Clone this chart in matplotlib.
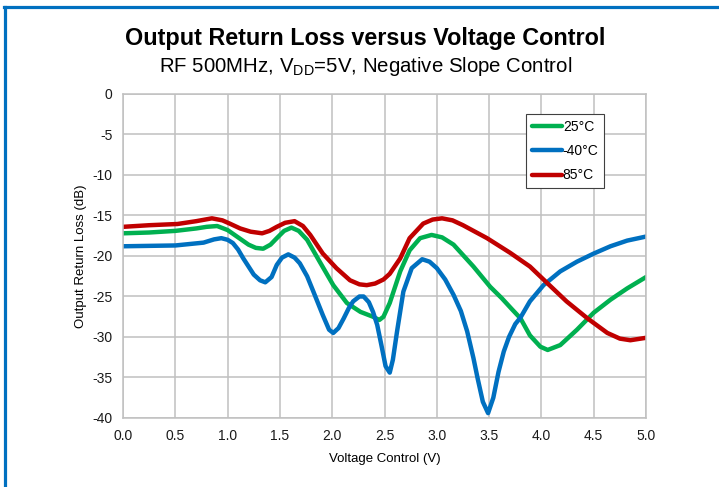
import matplotlib
matplotlib.use('Agg')
import matplotlib.pyplot as plt
from matplotlib.lines import Line2D

plt.rcParams['font.family'] = ['Liberation Sans', 'DejaVu Sans']
plt.rcParams['axes.unicode_minus'] = False

# 25°C
x_25 = [0.0, 0.25, 0.5, 0.7, 0.8, 0.9, 1.0, 1.1, 1.2, 1.27, 1.34, 1.41, 1.47, 1.54,
        1.61, 1.68, 1.76, 1.88, 2.01, 2.14, 2.27, 2.39, 2.45, 2.49, 2.55, 2.65,
        2.74, 2.84, 2.95, 3.05, 3.16, 3.35, 3.51, 3.62, 3.72, 3.80, 3.89, 3.99,
        4.06, 4.18, 4.34, 4.50, 4.66, 4.82, 5.0]
y_25 = [-17.2, -17.1, -16.9, -16.6, -16.4, -16.3, -16.8, -17.7, -18.6, -19.0, -19.1,
        -18.6, -17.8, -16.9, -16.5, -16.9, -18.0, -20.7, -23.6, -25.8, -26.9, -27.5,
        -27.9, -27.5, -25.8, -21.9, -19.3, -17.8, -17.4, -17.7, -18.6, -21.3, -23.8,
        -25.2, -26.6, -27.7, -29.8, -31.2, -31.6, -31.0, -29.1, -27.0, -25.4, -24.0,
        -22.6]

# -40°C
x_m40 = [0.0, 0.5, 0.77, 0.87, 0.94, 1.0, 1.05, 1.10, 1.15, 1.25, 1.31, 1.36, 1.42,
         1.47, 1.52, 1.58, 1.64, 1.69, 1.76, 1.82, 1.91, 1.97, 2.01, 2.06, 2.11,
         2.16, 2.20, 2.26, 2.30, 2.35, 2.39, 2.43, 2.47, 2.51, 2.55, 2.58, 2.62,
         2.68, 2.76, 2.86, 2.93, 3.0, 3.08, 3.16, 3.23, 3.29, 3.35, 3.39, 3.44,
         3.49, 3.54, 3.59, 3.64, 3.69, 3.75, 3.80, 3.89, 4.02, 4.18, 4.34, 4.50,
         4.66, 4.82, 5.0]
y_m40 = [-18.8, -18.7, -18.35, -17.95, -17.8, -18.0, -18.4, -19.2, -20.3, -22.3, -23.0,
         -23.25, -22.6, -21.1, -20.2, -19.8, -20.2, -20.9, -22.5, -24.4, -27.3, -29.1,
         -29.5, -28.9, -27.7, -26.4, -25.6, -25.0, -25.0, -25.7, -26.9, -28.5, -31.0,
         -33.6, -34.4, -32.8, -29.3, -24.4, -21.5, -20.4, -20.7, -21.5, -22.9, -24.8,
         -26.8, -29.3, -32.6, -35.1, -38.0, -39.4, -37.5, -34.3, -31.8, -30.0, -28.4,
         -27.6, -25.6, -23.6, -21.9, -20.7, -19.7, -18.8, -18.1, -17.6]

# 85°C
x_85 = [0.0, 0.25, 0.52, 0.7, 0.85, 0.95, 1.02, 1.12, 1.22, 1.33, 1.40, 1.47, 1.55,
        1.64, 1.72, 1.79, 1.91, 2.04, 2.17, 2.26, 2.33, 2.41, 2.49, 2.55, 2.65,
        2.74, 2.87, 2.96, 3.05, 3.15, 3.25, 3.48, 3.70, 3.89, 4.06, 4.24, 4.44,
        4.63, 4.75, 4.85, 5.0]
y_85 = [-16.4, -16.2, -16.05, -15.7, -15.35, -15.6, -16.0, -16.6, -17.0, -17.2, -16.9,
        -16.4, -15.9, -15.7, -16.3, -17.4, -19.7, -21.5, -23.0, -23.5, -23.6, -23.4,
        -22.9, -22.2, -20.3, -17.8, -16.0, -15.5, -15.35, -15.6, -16.2, -17.8, -19.6,
        -21.3, -23.4, -25.6, -27.7, -29.5, -30.2, -30.4, -30.1]

series = [('25°C', x_25, y_25, '#00B050'),
          ('-40°C', x_m40, y_m40, '#0070C0'),
          ('85°C', x_85, y_85, '#C00000')]

x_ticks = [0.0, 0.5, 1.0, 1.5, 2.0, 2.5, 3.0, 3.5, 4.0, 4.5, 5.0]
y_ticks = [0, -5, -10, -15, -20, -25, -30, -35, -40]

fig = plt.figure(figsize=(7.19, 4.87), dpi=100)
ax = fig.add_axes([0.1711, 0.1417, 0.7274, 0.6653])

for label, xs, ys, color in series:
    ax.plot(xs, ys, color=color, lw=3.2, label=label, solid_capstyle='round',
            solid_joinstyle='round')

ax.set_xlim(0, 5)
ax.set_ylim(-40, 0)
ax.set_xticks(x_ticks)
ax.set_xticklabels(['%.1f' % v for v in x_ticks])
ax.set_yticks(y_ticks)
ax.grid(True, color='#C0C0C0', lw=1.1)
ax.set_axisbelow(True)
for s in ax.spines.values():
    s.set_color('#C0C0C0')
    s.set_linewidth(1.1)
ax.tick_params(length=0, labelsize=10, colors='#1a1a1a')
ax.tick_params(axis='y', pad=7.5)
ax.tick_params(axis='x', pad=8)

ax.set_xlabel('Voltage Control (V)', fontsize=9.5, labelpad=7)
ax.set_ylabel('Output Return Loss (dB)', fontsize=9.5, labelpad=4)

leg = ax.legend(loc='upper left', bbox_to_anchor=(526 / 719, 1 - 114 / 487),
                bbox_transform=fig.transFigure, borderaxespad=0, fontsize=10,
                handlelength=2.2, handletextpad=0.05, labelspacing=0.75,
                borderpad=0.4, fancybox=False, framealpha=1)
leg.get_frame().set_edgecolor('#404040')
leg.get_frame().set_linewidth(0.8)

fig.text(365 / 719, 1 - 38 / 487, 'Output Return Loss versus Voltage Control',
         ha='center', va='center', fontsize=16.8, fontweight='bold')
fig.text(366 / 719, 1 - 66 / 487,
         'RF 500MHz, V$_{\\mathregular{DD}}$=5V, Negative Slope Control',
         ha='center', va='center', fontsize=14.7)

# blue frame (top and left edges visible)
frame_col = '#0070C0'
fig.add_artist(Line2D([4.7 / 719, 4.7 / 719], [0, 1 - 6.7 / 487],
                      transform=fig.transFigure, color=frame_col, lw=2.3))
fig.add_artist(Line2D([3.5 / 719, 1], [1 - 6.7 / 487, 1 - 6.7 / 487],
                      transform=fig.transFigure, color=frame_col, lw=2.3))

fig.savefig('out.png', dpi=100)
